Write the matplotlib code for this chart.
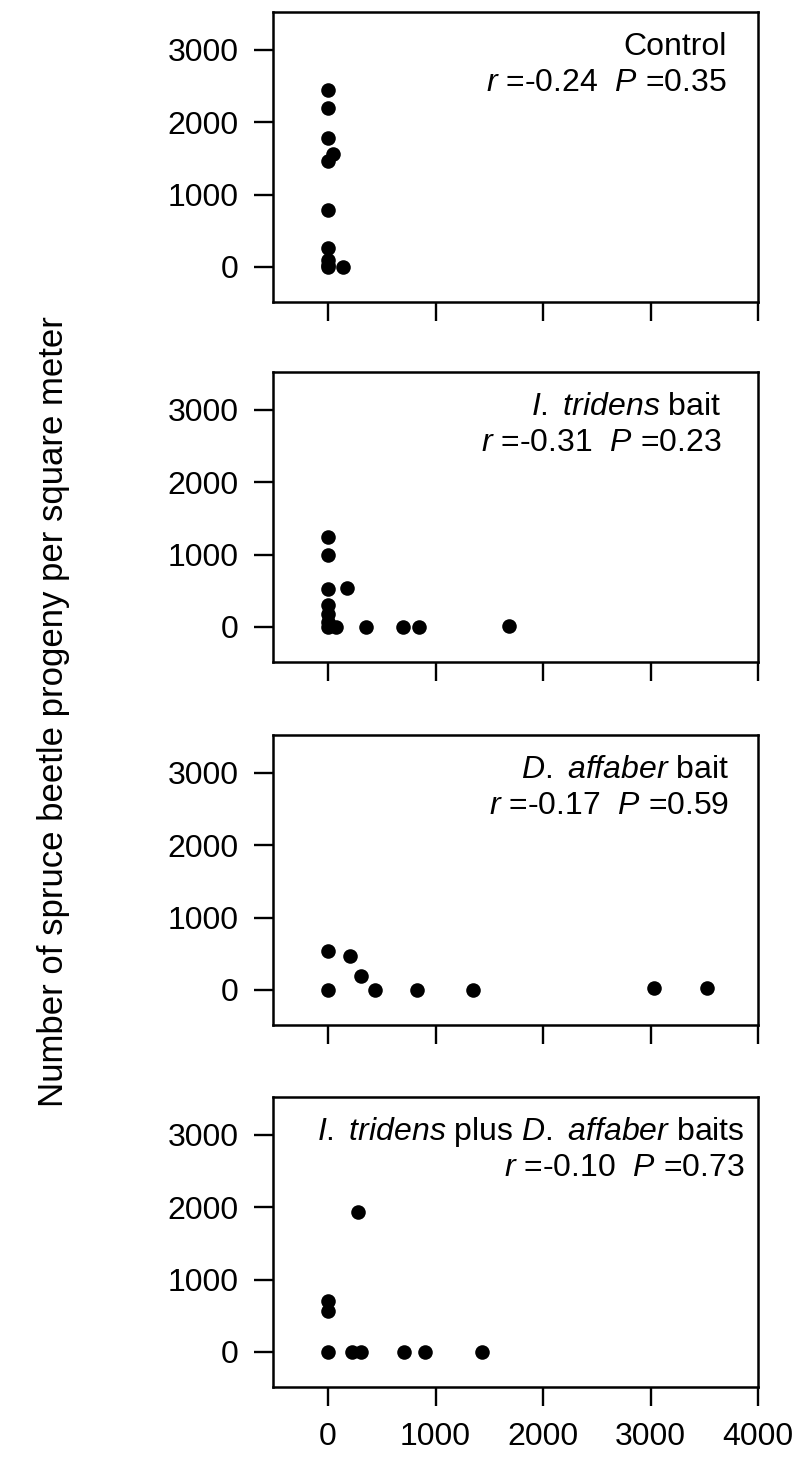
import matplotlib
matplotlib.use("Agg")
import matplotlib.pyplot as plt

plt.rcParams['font.family'] = ['Liberation Sans', 'DejaVu Sans']
plt.rcParams['mathtext.fontset'] = 'custom'
plt.rcParams['mathtext.rm'] = 'Liberation Sans'
plt.rcParams['mathtext.it'] = 'Liberation Sans:italic'

# Panel titles and statistics
titles = ["Control",
          r"$\mathit{I.\ tridens}$ bait",
          r"$\mathit{D.\ affaber}$ bait",
          r"$\mathit{I.\ tridens}$ plus $\mathit{D.\ affaber}$ baits"]
r_values = ["-0.24", "-0.31", "-0.17", "-0.10"]
p_values = ["0.35", "0.23", "0.59", "0.73"]

# Data
control_x = [0, 0, 0, 0, 50, 0, 0, 0, 0, 0, 140]
control_y = [2450, 2200, 1780, 1470, 1560, 790, 265, 100, 30, 0, 0]

tridens_x = [0, 0, 0, 175, 0, 0, 0, 0, 75, 350, 700, 850, 1680]
tridens_y = [1240, 1000, 530, 540, 300, 180, 70, 0, 0, 0, 0, 0, 10]

affaber_x = [0, 205, 305, 0, 440, 830, 1350, 3030, 3530]
affaber_y = [540, 465, 190, 0, 0, 0, 0, 30, 30]

both_x = [280, 0, 0, 0, 225, 310, 705, 900, 1430]
both_y = [1930, 710, 570, 0, 0, 0, 0, 0, 0]

panels_x = [control_x, tridens_x, affaber_x, both_x]
panels_y = [control_y, tridens_y, affaber_y, both_y]

x_ticks = [0, 1000, 2000, 3000, 4000]
y_ticks = [0, 1000, 2000, 3000]

W, H = 797, 1459
fig = plt.figure(figsize=(W / 100, H / 100), dpi=100)

left, right = 273, 758
tops = [12, 372, 735, 1097]
height = 290
text_x = [0.935, 0.925, 0.94, 0.972]

for i in range(4):
    top = tops[i]
    ax = fig.add_axes([left / W, (H - top - height) / H,
                       (right - left) / W, height / H])
    ax.scatter(panels_x[i], panels_y[i], s=110, color='black', zorder=3,
               linewidths=0)
    ax.set_xlim(-512, 4000)
    ax.set_ylim(-485, 3525)
    ax.set_xticks(x_ticks)
    ax.set_yticks(y_ticks)
    if i < 3:
        ax.set_xticklabels([])
    ax.tick_params(axis='both', direction='out', length=13.5, width=1.7,
                   labelsize=23, colors='black')
    ax.tick_params(axis='x', pad=12)
    ax.tick_params(axis='y', pad=11)
    for sp in ax.spines.values():
        sp.set_linewidth(1.8)

    ax.text(text_x[i], 3040, titles[i], transform=ax.get_yaxis_transform(),
            ha='right', va='center', fontsize=23)
    ax.text(text_x[i], 2540, f"$r$ ={r_values[i]}  $P$ ={p_values[i]}",
            transform=ax.get_yaxis_transform(),
            ha='right', va='center', fontsize=23)

fig.text(54 / W, (H - 712) / H, "Number of spruce beetle progeny per square meter",
         rotation=90, ha='center', va='center', fontsize=25)

fig.savefig("out.png", dpi=100)
